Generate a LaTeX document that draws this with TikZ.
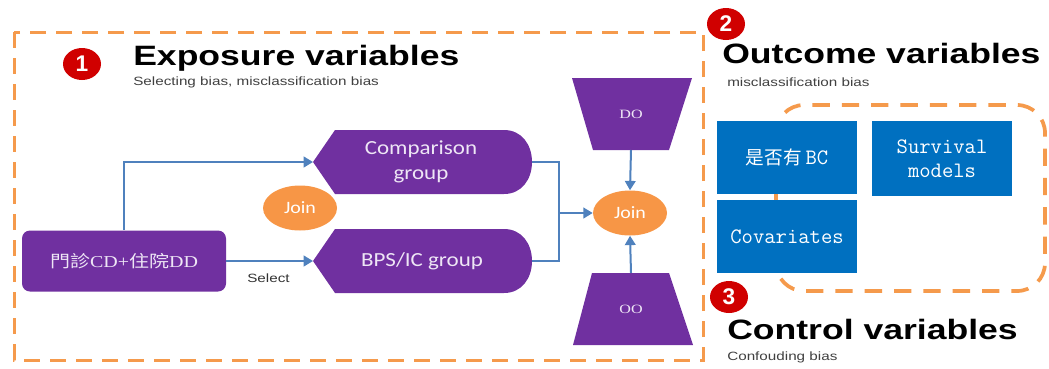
\documentclass[tikz,border=0pt]{standalone}
\usepackage{fontspec}
\setmainfont{Liberation Sans}
\newfontfamily\calfont{Carlito}
\newfontfamily\cjk{Noto Sans CJK TC}
\newfontfamily\myserif{Liberation Serif}
\usetikzlibrary{shapes.geometric,arrows.meta}
\definecolor{purp}{HTML}{7030A0}
\definecolor{orng}{HTML}{F79646}
\definecolor{dorng}{HTML}{F59A4C}
\definecolor{bbox}{HTML}{0070C0}
\definecolor{arrc}{HTML}{4F81BD}
\definecolor{badgec}{HTML}{D00000}
\definecolor{ltxt}{HTML}{EEE6F5}
\newcommand{\hs}[1]{\scalebox{1.27}[1]{#1}}
\newcommand{\gs}[1]{\scalebox{1.15}[1]{#1}}
\begin{document}
\begin{tikzpicture}[x=0.75pt,y=-0.75pt,
  titlest/.style={font=\fontsize{21}{25}\selectfont\bfseries, inner sep=0, anchor=base west},
  subt/.style={font=\fontsize{9}{11}\selectfont, text=black!75, inner sep=0, anchor=base west},
  badgest/.style={ellipse, fill=badgec, text=white, font=\fontsize{17}{18}\selectfont\bfseries, minimum width=28.5pt, minimum height=24pt, inner sep=0},
  grouptxt/.style={text=ltxt, font=\calfont\fontsize{15}{18.75}\selectfont, align=center, inner sep=0},
  joinst/.style={ellipse, fill=orng, text=white, minimum width=55.5pt, minimum height=33.75pt, font=\calfont\fontsize{13}{15}\selectfont, inner sep=0},
  traptxt/.style={text=ltxt, font=\myserif\fontsize{9.5}{11}\selectfont, inner sep=0},
  bluebox/.style={rectangle, fill=bbox, text=white, minimum width=105pt, inner sep=0, font=\ttfamily\fontsize{16.5}{18}\selectfont, align=center},
  arr/.style={draw=arrc, line width=1.5pt, -{Triangle[length=7pt,width=8pt]}},
  conn/.style={draw=arrc, line width=1.5pt},
  dashbox/.style={draw=dorng, line width=2.25pt, dash pattern=on 12pt off 7.5pt},
  dashbox2/.style={draw=dorng, line width=2.8pt, dash pattern=on 13pt off 9pt}
]
\useasboundingbox (0,0) rectangle (1049,368);

% dashed frames
\draw[dashbox] (14,32) rectangle (703,360);
\draw[dashbox2, rounded corners=21pt] (776,105) rectangle (1045,291);

% titles and badges
\node[badgest] (b1) at (82,64) {1};
\node[titlest] (t1) at (133,65) {\hs{Exposure variables}};
\node[subt] (s1) at (133,85) {\hs{Selecting bias, misclassification bias}};

\node[badgest] (b2) at (726,24) {2};
\node[titlest] (t2) at (722,63) {\hs{Outcome variables}};
\node[subt] (s2) at (727,86) {\hs{misclassification bias}};

\node[badgest] (b3) at (729,297) {3};
\node[titlest] (t3) at (727,339) {\hs{Control variables}};
\node[subt] (s3) at (727,360) {\hs{Confouding bias}};

% source box
\node[rectangle, rounded corners=6pt, fill=purp, minimum width=153pt, minimum height=45.75pt, inner sep=0,
      text=ltxt, font=\myserif\fontsize{12.5}{15}\selectfont] (src) at (124,261)
      {\scalebox{1.2}[1]{{\cjk 門診}CD+{\cjk 住院}DD}};

% comparison group shape
\fill[purp] (313,162) -- (335,130) -- (504,130) .. controls (522,130) and (532,145) .. (532,162)
  .. controls (532,179) and (522,194) .. (504,194) -- (335,194) -- cycle;
\node[grouptxt] (cmp) at (421,162) {\gs{Comparison}\\\gs{group}};
\coordinate (cmpL) at (313,162);
\coordinate (cmpR) at (532,162);

% BPS/IC group shape
\fill[purp] (313,261) -- (335,229) -- (504,229) .. controls (522,229) and (532,244) .. (532,261)
  .. controls (532,278) and (522,293) .. (504,293) -- (335,293) -- cycle;
\node[grouptxt] (bps) at (422,261) {\gs{BPS/IC group}};
\coordinate (bpsL) at (313,261);
\coordinate (bpsR) at (532,261);

% joins
\node[joinst] (join1) at (300,208) {\gs{Join}};
\node[joinst] (join2) at (630,213) {\gs{Join}};

% trapezia
\fill[purp] (572,78) -- (692,78) -- (669,150) -- (593,150) -- cycle;
\node[traptxt] (DO) at (631,114) {\hs{DO}};
\coordinate (DOb) at (631,150);
\fill[purp] (592,273) -- (669,273) -- (693,345) -- (573,345) -- cycle;
\node[traptxt] (OO) at (631,309) {\hs{OO}};
\coordinate (OOt) at (631,273);

% blue boxes
\node[bluebox, minimum height=54.75pt] (bc) at (787,157.5) {{\cjk\fontsize{14}{16}\selectfont 是否有}\,BC};
\node[bluebox, minimum height=56.25pt] (surv) at (942,158.5) {Survival\\models};
\node[bluebox, minimum height=54.75pt] (cov) at (787,236.5) {Covariates};

% connectors
\draw[arr] (src.north) |- (cmpL);
\draw[arr] (src.east) -- (bpsL);
\node[subt, text=black!80] (sel) at (247,282) {\hs{Select}};
\coordinate (mid) at (559,213);
\draw[conn] (cmpR) -| (mid);
\draw[conn] (bpsR) -| (mid);
\draw[arr] (mid) -- (join2.west);
\draw[arr] (DOb) -- (join2.north);
\draw[arr] (OOt) -- (join2.south);
\end{tikzpicture}
\end{document}
